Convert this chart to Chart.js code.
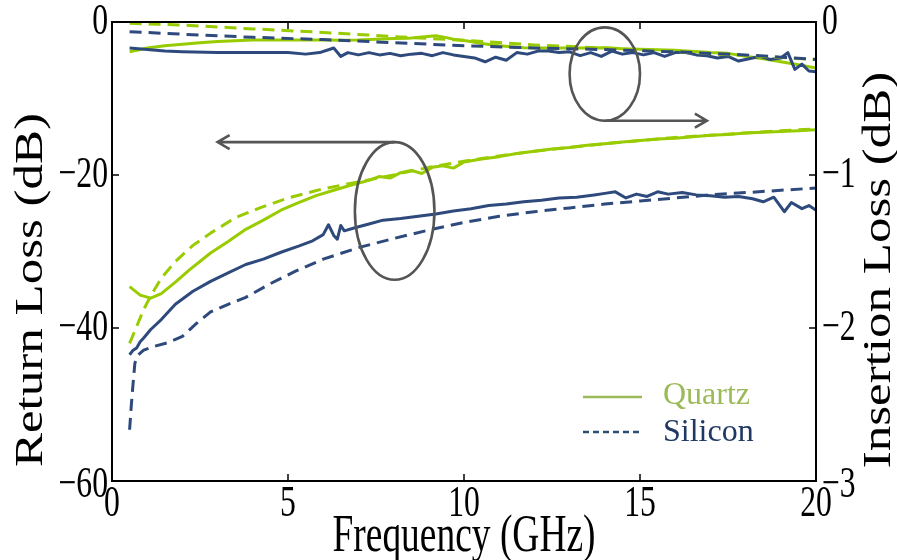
<!DOCTYPE html>
<html>
<head>
<meta charset="utf-8">
<script src="https://cdn.jsdelivr.net/npm/chart.js@4.4.1/dist/chart.umd.min.js"></script>
<style>
  html, body { margin: 0; padding: 0; background: #ffffff; }
  #wrap { width: 897px; height: 560px; }
</style>
</head>
<body>
<div id="wrap"><canvas id="c" width="897" height="560"></canvas></div>
<script>
// ---- Return loss (left axis, dB) ----
const quartzRLFreq = [0.5,0.8,1.1,1.4,1.8,2.2,2.8,3.3,3.8,4.3,4.8,5.3,5.8,6.3,6.8,7.3,7.6,7.9,8.2,8.5,8.8,9.1,9.4,9.7,10,10.5,11,11.5,12,12.5,13,13.5,14,14.5,15,15.5,16,16.5,17,17.5,18,18.5,19,19.5,20];
const quartzRLMeas = [-34.6,-35.7,-36.1,-35.5,-34.0,-32.4,-30.2,-28.7,-27.1,-25.9,-24.6,-23.6,-22.7,-22.0,-21.3,-20.7,-20.2,-20.4,-19.7,-19.4,-19.8,-19.0,-18.8,-19.1,-18.3,-17.9,-17.6,-17.2,-16.9,-16.6,-16.4,-16.1,-15.9,-15.7,-15.5,-15.3,-15.2,-15.0,-14.8,-14.7,-14.5,-14.4,-14.3,-14.2,-14.1];

const quartzRLSimFreq = [0.5,0.7,0.9,1.1,1.4,1.8,2.3,2.8,3.5,4.2,5,6,7,8,9,10,11,12,13,14,15,16,17,18,19,20];
const quartzRLSim = [-42,-39.8,-37.6,-35.8,-33.5,-31.3,-29.2,-27.6,-25.6,-24.3,-23.0,-21.8,-20.9,-20.0,-19.0,-18.2,-17.5,-16.9,-16.4,-15.9,-15.5,-15.1,-14.8,-14.5,-14.2,-14.0];

const siliconRLFreq = [0.5,0.6,0.7,0.8,0.9,1.1,1.4,1.8,2.3,2.8,3.3,3.8,4.3,4.8,5.3,5.7,6.0,6.15,6.3,6.4,6.5,6.6,6.9,7.3,7.7,8.2,8.7,9.2,9.7,10.2,10.7,11.2,11.7,12.2,12.7,13.2,13.7,14.0,14.3,14.6,14.9,15.2,15.5,15.8,16.2,16.6,17.0,17.4,17.8,18.2,18.5,18.8,19.1,19.3,19.6,19.8,20];
const siliconRLMeas = [-43.5,-42.9,-42.6,-41.8,-41.3,-40.2,-38.9,-36.9,-35.2,-33.9,-32.8,-31.7,-31.0,-30.1,-29.3,-28.6,-27.8,-26.5,-27.9,-28.4,-26.6,-27.3,-26.9,-26.4,-25.9,-25.7,-25.4,-25.1,-24.7,-24.4,-24.0,-23.8,-23.5,-23.3,-23.0,-22.9,-22.6,-22.4,-22.2,-23.0,-22.5,-22.8,-22.2,-22.5,-22.3,-22.6,-22.7,-22.9,-22.8,-23.1,-23.5,-22.9,-24.8,-23.6,-24.4,-24.0,-24.6];

const siliconRLSimFreq = [0.5,0.55,0.6,0.65,0.75,0.9,1.2,1.6,2.0,2.4,2.8,3.3,3.8,4.5,5.2,6,7,8,9,10,11,12,13,14,15,16,17,18,19,20];
const siliconRLSim = [-53.3,-50,-47.2,-44.6,-43.5,-42.9,-42.4,-41.9,-41.1,-39.4,-37.9,-36.9,-36.0,-34.2,-32.6,-31.0,-29.5,-28.3,-27.2,-26.2,-25.4,-24.8,-24.3,-23.8,-23.4,-23.0,-22.6,-22.3,-22.0,-21.7];

// ---- Insertion loss (right axis, dB) ----
const quartzILFreq = [0.5,1.0,1.5,2.0,2.5,3,3.5,4,5,6,6.5,7,7.5,8,8.4,8.8,9.2,9.5,9.7,10.1,10.5,11,11.7,12.3,13.1,13.6,14,14.5,15,15.5,16,16.3,16.7,17,17.5,18.1,18.5,19,19.5,20];
const quartzILMeas = [-0.194,-0.17,-0.155,-0.145,-0.135,-0.128,-0.122,-0.118,-0.117,-0.118,-0.12,-0.118,-0.112,-0.108,-0.107,-0.098,-0.09,-0.102,-0.113,-0.124,-0.14,-0.155,-0.168,-0.17,-0.17,-0.17,-0.168,-0.175,-0.178,-0.182,-0.185,-0.19,-0.195,-0.2,-0.205,-0.227,-0.24,-0.26,-0.28,-0.3];

const siliconILFreq = [0.5,1,1.5,2,3,4,5,5.5,5.9,6.3,6.5,6.7,7,7.3,7.6,7.9,8.2,8.5,8.8,9.1,9.4,9.7,10,10.3,10.6,10.9,11.2,11.5,11.8,12.1,12.4,12.7,13,13.3,13.6,13.9,14.2,14.5,14.8,15.1,15.4,15.7,16,16.3,16.6,16.9,17.2,17.5,17.8,18.1,18.4,18.7,19,19.2,19.4,19.6,19.8,20];
const siliconILMeas = [-0.17,-0.18,-0.19,-0.195,-0.2,-0.2,-0.2,-0.21,-0.2,-0.17,-0.225,-0.2,-0.215,-0.2,-0.215,-0.205,-0.22,-0.21,-0.205,-0.22,-0.2,-0.215,-0.225,-0.235,-0.26,-0.23,-0.25,-0.2,-0.21,-0.19,-0.19,-0.2,-0.195,-0.22,-0.2,-0.225,-0.19,-0.21,-0.2,-0.215,-0.2,-0.225,-0.2,-0.2,-0.215,-0.22,-0.235,-0.225,-0.255,-0.24,-0.225,-0.245,-0.235,-0.2,-0.31,-0.275,-0.32,-0.325];

const simILFreq = [0.5,2,4,6,8,10,12,14,16,18,19,20];
const quartzILSim = [-0.008,-0.02,-0.045,-0.068,-0.095,-0.12,-0.15,-0.17,-0.195,-0.22,-0.232,-0.245];
const siliconILSim = [-0.063,-0.08,-0.1,-0.115,-0.135,-0.155,-0.17,-0.18,-0.195,-0.215,-0.23,-0.245];

// ---- Axis ticks ----
const freqTicks = [0, 5, 10, 15, 20];
const rlTicks = [0, -20, -40, -60];
const ilTicks = [0, -1, -2, -3];

const GREEN = '#99cc00';
const BLUE = '#2e4a7d';
const DASH = [12, 7];

function pts(xs, ys) { return xs.map((x, i) => ({ x: x, y: ys[i] })); }

function line(data, color, axis, dashed) {
  return {
    data: data, yAxisID: axis, borderColor: color, backgroundColor: color,
    borderWidth: 3, borderDash: dashed ? DASH : [], pointRadius: 0,
    tension: 0, fill: false, borderCapStyle: 'butt', borderJoinStyle: 'round'
  };
}

// Text drawn narrower than its height, like the figure's lettering.
const SQUISH = 0.72;
function drawText(ctx, text, x, y, o) {
  ctx.save();
  ctx.font = o.font;
  ctx.fillStyle = o.color || '#000';
  ctx.textAlign = o.align || 'center';
  ctx.textBaseline = o.baseline || 'middle';
  ctx.translate(x, y);
  const s = o.squish === undefined ? SQUISH : o.squish;
  if (o.rotate) { ctx.rotate(-Math.PI / 2); ctx.scale(1, s); }
  else { ctx.scale(s, 1); }
  ctx.fillText(text, 0, 0);
  ctx.restore();
}

const SERIF = '"Liberation Serif", "Times New Roman", serif';

const framePlugin = {
  id: 'frame',
  afterDatasetsDraw(chart) {
    const ctx = chart.ctx;
    const a = chart.chartArea;
    const sx = chart.scales.x, sy = chart.scales.y, sy1 = chart.scales.y1;

    // Box
    ctx.save();
    ctx.strokeStyle = '#000';
    ctx.lineWidth = 2;
    ctx.strokeRect(a.left, a.top, a.right - a.left, a.bottom - a.top);

    // Inward tick marks
    ctx.lineWidth = 1.5;
    ctx.beginPath();
    freqTicks.forEach(v => {
      const px = sx.getPixelForValue(v);
      ctx.moveTo(px, a.bottom); ctx.lineTo(px, a.bottom - 7);
      ctx.moveTo(px, a.top); ctx.lineTo(px, a.top + 7);
    });
    rlTicks.forEach(v => {
      const py = sy.getPixelForValue(v);
      ctx.moveTo(a.left, py); ctx.lineTo(a.left + 7, py);
    });
    ilTicks.forEach(v => {
      const py = sy1.getPixelForValue(v);
      ctx.moveTo(a.right, py); ctx.lineTo(a.right - 7, py);
    });
    ctx.stroke();
    ctx.restore();

    const tickFont = '44px ' + SERIF;
    const fmt = v => (v < 0 ? '\u2212' + Math.abs(v) : String(v));
    freqTicks.forEach(v => {
      drawText(ctx, fmt(v), sx.getPixelForValue(v), a.bottom + 23, { font: tickFont });
    });
    rlTicks.forEach(v => {
      const py = sy.getPixelForValue(v);
      drawText(ctx, fmt(v), a.left - 4, py + (v === -60 ? 4 : 0), { font: tickFont, align: 'right' });
    });
    ilTicks.forEach(v => {
      const py = sy1.getPixelForValue(v);
      drawText(ctx, fmt(v), a.right + 6, py + (v === -3 ? 4 : 0), { font: tickFont, align: 'left' });
    });

    // Axis titles
    const titleFont = '52px ' + SERIF;
    drawText(ctx, 'Frequency (GHz)', (a.left + a.right) / 2, 537, { font: titleFont });
    const sideFont = '51px ' + SERIF;
    drawText(ctx, 'Return Loss (dB)', 31, 290, { font: sideFont, rotate: true, squish: 0.8 });
    drawText(ctx, 'Insertion Loss (dB)', 879, 270, { font: sideFont, rotate: true, squish: 0.8 });

    // Callout ellipses with arrows pointing to the matching axis
    function callout(cx, cy, dx, dy, yScale, tipX, fromTop) {
      const px = sx.getPixelForValue(cx), py = yScale.getPixelForValue(cy);
      const rx = Math.abs(sx.getPixelForValue(cx + dx) - px);
      const ry = Math.abs(yScale.getPixelForValue(cy + dy) - py);
      const ay = fromTop ? py - ry : py + ry;
      const tx = sx.getPixelForValue(tipX);
      const dir = tx > px ? 1 : -1;
      ctx.save();
      ctx.strokeStyle = '#555555';
      ctx.lineWidth = 2.6;
      ctx.beginPath();
      ctx.ellipse(px, py, rx, ry, 0, 0, Math.PI * 2);
      ctx.stroke();
      ctx.beginPath();
      ctx.moveTo(px, ay); ctx.lineTo(tx, ay);
      ctx.moveTo(tx - dir * 12, ay - 7); ctx.lineTo(tx, ay); ctx.lineTo(tx - dir * 12, ay + 7);
      ctx.stroke();
      ctx.restore();
    }
    callout(14.0, -0.34, 1.0, 0.305, sy1, 16.9, false);
    callout(8.03, -24.7, 1.13, 9.0, sy, 3.0, true);

    // Legend
    ctx.save();
    ctx.lineWidth = 2.6;
    ctx.strokeStyle = '#9bbb59';
    ctx.beginPath(); ctx.moveTo(583, 397); ctx.lineTo(642, 397); ctx.stroke();
    ctx.strokeStyle = '#2c4d75';
    ctx.setLineDash([6, 4]);
    ctx.beginPath(); ctx.moveTo(583, 432); ctx.lineTo(642, 432); ctx.stroke();
    ctx.restore();
    const legFont = '32px ' + SERIF;
    drawText(ctx, 'Quartz', 663, 396, { font: legFont, align: 'left', color: '#9bbb59', squish: 1 });
    drawText(ctx, 'Silicon', 663, 433, { font: legFont, align: 'left', color: '#1f3864', squish: 1 });
  }
};

new Chart(document.getElementById('c'), {
  type: 'line',
  data: {
    datasets: [
      line(pts(siliconRLSimFreq, siliconRLSim), BLUE, 'y', true),
      line(pts(quartzRLSimFreq, quartzRLSim), GREEN, 'y', true),
      line(pts(siliconRLFreq, siliconRLMeas), BLUE, 'y', false),
      line(pts(quartzRLFreq, quartzRLMeas), GREEN, 'y', false),
      line(pts(simILFreq, siliconILSim), BLUE, 'y1', true),
      line(pts(simILFreq, quartzILSim), GREEN, 'y1', true),
      line(pts(siliconILFreq, siliconILMeas), BLUE, 'y1', false),
      line(pts(quartzILFreq, quartzILMeas), GREEN, 'y1', false)
    ]
  },
  options: {
    responsive: false,
    animation: false,
    devicePixelRatio: 1,
    layout: { padding: { left: 112, right: 81, top: 22, bottom: 79 } },
    plugins: { legend: { display: false }, tooltip: { enabled: false } },
    scales: {
      x: { type: 'linear', min: 0, max: 20, display: false },
      y: { type: 'linear', position: 'left', min: -60, max: 0, display: false },
      y1: { type: 'linear', position: 'right', min: -3, max: 0, display: false }
    }
  },
  plugins: [framePlugin]
});
</script>
</body>
</html>
